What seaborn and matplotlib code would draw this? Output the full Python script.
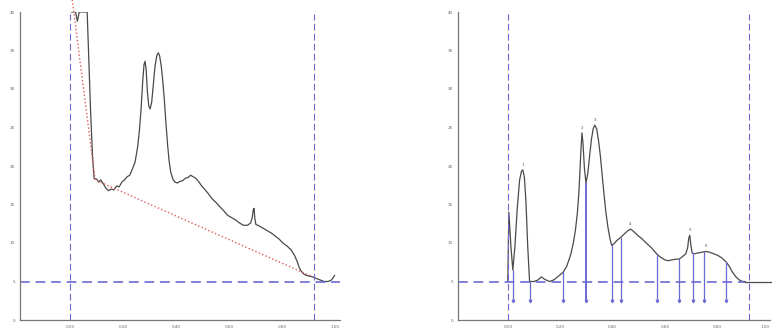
import numpy as np
import pandas as pd
import seaborn as sns
import matplotlib.pyplot as plt

sns.set_style('white')
plt.rcParams['font.family'] = ['DejaVu Sans']

# left chromatogram (raw signal, clipped at 40)
raw_t = [0.004, 0.02, 0.027, 0.034, 0.064, 0.07, 0.077, 0.084, 0.09, 0.10, 0.108, 0.115, 0.125,
         0.135, 0.145, 0.155, 0.165, 0.175, 0.185, 0.195, 0.205, 0.215, 0.225, 0.235, 0.245, 0.255,
         0.262, 0.268, 0.274, 0.279, 0.283, 0.287, 0.292, 0.297, 0.302, 0.308, 0.314, 0.32, 0.327,
         0.333, 0.338, 0.344, 0.35, 0.356, 0.362, 0.368, 0.374, 0.38, 0.388, 0.396, 0.405, 0.415,
         0.425, 0.435, 0.445, 0.455, 0.465, 0.475, 0.485, 0.495, 0.505, 0.52, 0.535, 0.55, 0.566,
         0.58, 0.595, 0.61, 0.625, 0.64, 0.655, 0.67, 0.682, 0.688, 0.692, 0.695, 0.698, 0.702,
         0.71, 0.72, 0.73, 0.745, 0.76, 0.775, 0.79, 0.804, 0.82, 0.835, 0.848, 0.858, 0.866,
         0.874, 0.882, 0.892, 0.905, 0.917, 0.93, 0.945, 0.96, 0.975, 0.988, 1.0]
raw_v = [40, 40, 38.8, 40, 40, 34, 27, 21.5, 18.4, 18.3, 17.9, 18.2, 17.7,
         17.1, 16.8, 17.0, 16.9, 17.4, 17.3, 17.9, 18.2, 18.6, 18.8, 19.6, 20.5, 22.5,
         24.8, 27.5, 31.0, 33.2, 33.6, 32.5, 29.5, 27.8, 27.4, 28.3, 30.5, 32.8, 34.3,
         34.7, 34.3, 33.0, 31.0, 28.5, 25.5, 22.8, 20.6, 19.2, 18.3, 17.9, 17.8, 18.0,
         18.1, 18.4, 18.5, 18.8, 18.6, 18.4, 18.0, 17.5, 17.1, 16.5, 15.8, 15.3, 14.7,
         14.2, 13.6, 13.3, 13.0, 12.6, 12.3, 12.3, 12.6, 13.3, 14.3, 14.5, 13.2, 12.4,
         12.3, 12.1, 11.9, 11.6, 11.3, 10.9, 10.5, 10.0, 9.6, 9.1, 8.4, 7.6, 6.8,
         6.3, 6.0, 5.8, 5.7, 5.6, 5.4, 5.2, 5.0, 5.0, 5.2, 5.8]
# red dotted baseline
base_t = [0.0075, 0.094, 0.917]
base_v = [41.6, 18.2, 5.6]

# right chromatogram (baseline corrected)
cor_t = [0.0, 0.004, 0.012, 0.019, 0.027, 0.036, 0.045, 0.052, 0.057, 0.063, 0.069, 0.076, 0.083,
         0.1, 0.115, 0.128, 0.14, 0.158, 0.175, 0.19, 0.211, 0.225, 0.24, 0.25, 0.258, 0.265,
         0.271, 0.276, 0.28, 0.283, 0.287, 0.292, 0.298, 0.305, 0.312, 0.319, 0.326, 0.332, 0.339,
         0.346, 0.353, 0.36, 0.367, 0.374, 0.382, 0.39, 0.396, 0.405, 0.415, 0.43, 0.445, 0.458,
         0.468, 0.48, 0.495, 0.51, 0.528, 0.547, 0.56, 0.57, 0.585, 0.6, 0.611, 0.625, 0.64,
         0.653, 0.665, 0.679, 0.686, 0.69, 0.694, 0.698, 0.703, 0.712, 0.725, 0.74, 0.755, 0.77,
         0.785, 0.80, 0.815, 0.834, 0.846, 0.857, 0.87, 0.883, 0.895, 0.906]
cor_v = [5.0, 14.0, 9.5, 6.5, 9.5, 14.5, 18.2, 19.3, 19.5, 18.6, 15.5, 9.5, 5.0,
         5.0, 5.2, 5.6, 5.3, 5.0, 5.2, 5.6, 6.2, 7.0, 8.5, 10.0, 11.7, 13.8,
         16.5, 20.0, 22.8, 24.3, 22.8, 19.8, 17.8, 19.0, 21.3, 23.5, 24.9, 25.3, 24.8,
         23.3, 21.3, 18.8, 16.3, 14.0, 12.0, 10.5, 9.7, 9.9, 10.3, 10.7, 11.2, 11.6,
         11.8, 11.5, 11.0, 10.6, 10.0, 9.4, 8.9, 8.5, 8.1, 7.8, 7.7, 7.8, 7.9,
         7.9, 8.2, 8.6, 9.4, 10.6, 11.0, 9.8, 8.7, 8.6, 8.7, 8.8, 8.9, 8.8,
         8.6, 8.4, 8.1, 7.5, 6.9, 6.2, 5.6, 5.2, 5.0, 5.0]
# peak boundaries and peak labels
bounds_t = [0.019, 0.083, 0.211, 0.298, 0.396, 0.43, 0.57, 0.653, 0.706, 0.747, 0.834]
peak_t = [0.057, 0.283, 0.332, 0.468, 0.694, 0.755]
peak_lab = ['1', '2', '3', '4', '5', '6']

start_t, end_t, level = 0.0, 0.92, 5.0
xticks = [0.0, 0.2, 0.4, 0.6, 0.8, 1.0]
yticks = [0, 5, 10, 15, 20, 25, 30, 35, 40]

curve_c = '#4a4a4a'
blue = '#6a6ad4'
W, H = 772, 329
fig = plt.figure(figsize=(W / 100, H / 100), dpi=100)
ax1 = fig.add_axes([20 / W, 9 / H, 320 / W, 308 / H])
ax2 = fig.add_axes([458 / W, 9 / H, 312 / W, 308 / H])


def style(ax, right):
    ax.set_xlim(-0.19, right)
    ax.set_ylim(0, 40)
    ax.set_xticks(xticks)
    ax.set_xticklabels(['%.2f' % t for t in xticks])
    ax.set_yticks(yticks)
    ax.tick_params(labelsize=3, colors='#666666', length=2, width=0.6, pad=1.5)
    for s in ['top', 'right']:
        ax.spines[s].set_visible(False)
    for s in ['left', 'bottom']:
        ax.spines[s].set_color('#777777')
        ax.spines[s].set_linewidth(0.9)
    ax.set_xlabel('')
    ax.set_ylabel('')
    for t in [start_t, end_t]:
        ax.axvline(t, ymax=0.995, color=blue, lw=0.8, ls=(0, (6, 3)), zorder=5)


# left panel
sns.lineplot(x=raw_t, y=raw_v, ax=ax1, color=curve_c, lw=0.9, sort=False)
ax1.axhline(level, color=blue, lw=1.4, ls=(0, (5, 3)), alpha=0.85)
ax1.plot(base_t, base_v, color='#e05a5a', lw=1.0, ls=':', clip_on=False)
style(ax1, 1.02)

# right panel
sns.lineplot(x=cor_t, y=cor_v, ax=ax2, color=curve_c, lw=0.9, sort=False)
ax2.plot([-0.19, end_t - 0.014], [level, level], color=blue, lw=1.4, ls=(0, (5, 3)), alpha=0.85)
ax2.plot([end_t - 0.014, 1.1], [level, level], color=curve_c, lw=0.9, clip_on=False)
for b in bounds_t:
    v = np.interp(b, cor_t, cor_v)
    lw = 1.4 if b == 0.298 else 0.9
    ax2.plot([b, b], [2.5, v], color=blue, lw=lw)
    ax2.plot([b], [2.5], marker='v', ms=1.8, color=blue)
for p, lab in zip(peak_t, peak_lab):
    ax2.text(p, np.interp(p, cor_t, cor_v) + 0.4, lab, fontsize=3, color='#555555', ha='center', va='bottom')
style(ax2, 1.0)
ax2.get_xticklabels()[-1].set_ha('right')

plt.savefig('out.png', dpi=100)
